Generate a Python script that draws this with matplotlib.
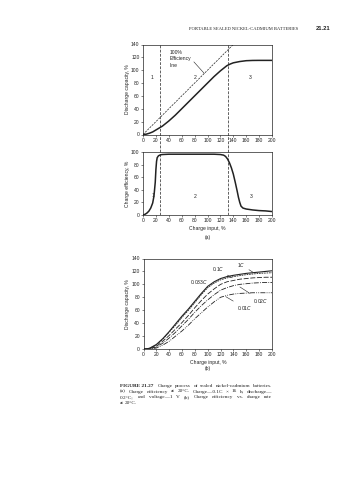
import numpy as np
import matplotlib
matplotlib.use('Agg')
from matplotlib import pyplot as plt

# (a) top: discharge capacity vs charge input
cap_x = [0, 5, 10, 15, 20, 25, 30, 40, 50, 60, 70, 80, 90, 100, 110, 120, 125, 130, 135, 140, 150, 160, 170, 180, 190, 200]
cap_y = [0, 0.5, 2, 4, 7, 10, 13, 21, 30, 40, 50, 60, 70, 80, 90, 99, 103, 107, 109.5, 111.5, 113.5, 114.8, 115.2, 115.3, 115.3, 115.3]
line100_x = [0, 141]
line100_y = [0, 141]
zone_edges = [27, 132]

# (a) bottom: charge efficiency
eff_x = [0, 3, 6, 9, 12, 15, 17, 19, 20, 21, 22, 24, 27, 30, 40, 60, 80, 100, 110, 120, 125, 128, 131, 134, 137, 140, 143, 146, 148, 150, 152, 155, 160, 170, 180, 190, 200]
eff_y = [0, 1, 3, 6, 11, 19, 30, 52, 72, 85, 91, 94, 95.5, 96, 96.5, 96.5, 96.5, 96.5, 96.5, 96, 95, 93, 89, 83, 75, 65, 52, 38, 28, 20, 14, 11, 9.5, 8, 7, 6.5, 5.5]

# (b) discharge capacity for several charge rates
rate_x = [0, 5, 10, 20, 30, 40, 50, 60, 70, 80, 90, 100, 110, 120, 130, 140, 150, 160, 170, 180, 190, 200]
rates = {
    '1C':     [0, 0, 1.5, 7, 16, 27, 39, 51, 62, 74, 86, 97, 104, 109, 112, 114, 115.5, 117, 118, 119, 120, 121],
    '0.1C':   [0, 0, 1.2, 6, 15, 26, 37, 49, 60, 72, 84, 95, 102, 107, 110, 112, 113.5, 115, 116, 117, 117.5, 118],
    '0.033C': [0, 0, 0.8, 4, 12, 21, 31, 41, 52, 64, 75, 85, 93, 100, 104, 106, 108, 109, 110, 110.5, 111, 111],
    '0.02C':  [0, 0, 0.5, 3, 9, 17, 26, 36, 46, 57, 67, 76, 84, 91, 95, 98, 100, 101, 102, 102.5, 103, 103],
    '0.01C':  [0, 0, 0.2, 1.5, 6, 12, 20, 28, 37, 47, 56, 65, 73, 80, 83, 85, 86, 86.5, 87, 87, 87, 87],
}
rate_styles = {
    '1C': '-',
    '0.1C': (0, (2, 1)),
    '0.033C': (0, (6, 2)),
    '0.02C': (0, (6, 1.5, 1, 1.5)),
    '0.01C': (0, (6, 1.5, 1, 1.5, 1, 1.5)),
}

ink = '#222222'
tick_font = 'Liberation Sans'
fs = 3.6

plt.rcParams['font.family'] = tick_font
plt.rcParams['font.size'] = fs
plt.rcParams['axes.linewidth'] = 0.5
plt.rcParams['xtick.major.width'] = 0.4
plt.rcParams['ytick.major.width'] = 0.4
plt.rcParams['xtick.major.size'] = 1.5
plt.rcParams['ytick.major.size'] = 1.5
plt.rcParams['xtick.major.pad'] = 1
plt.rcParams['ytick.major.pad'] = 1
plt.rcParams['text.color'] = ink
plt.rcParams['axes.edgecolor'] = ink
plt.rcParams['xtick.color'] = ink
plt.rcParams['ytick.color'] = ink
plt.rcParams['axes.labelcolor'] = ink

W, H = 357, 480
fig = plt.figure(figsize=(W / 100, H / 100), dpi=100)


def box(l, t, r, b):
    return [l / W, 1 - b / H, (r - l) / W, (b - t) / H]


ax1 = fig.add_axes(box(143, 44.5, 272, 134.5))
ax2 = fig.add_axes(box(143, 152, 272, 215))
ax3 = fig.add_axes(box(143.5, 258.5, 272, 349))

for ax in (ax1, ax2, ax3):
    ax.set_xlim(0, 200)
    ax.set_xticks(np.arange(0, 201, 20))
    ax.tick_params(labelsize=fs)

# top panel
ax1.set_ylim(0, 140)
ax1.set_yticks(np.arange(0, 141, 20))
ax1.plot(cap_x, cap_y, color=ink, lw=1.1)
ax1.plot(line100_x, line100_y, color=ink, lw=0.5, ls=(0, (3, 1.5)), clip_on=True)
ax1.set_ylabel('Discharge capacity, %', labelpad=1)
gap = (152 - 134.5) / (134.5 - 44.5)
for xe in zone_edges:
    ax1.axvline(xe, ymin=-gap, ymax=1, color=ink, lw=0.5, ls=(0, (4, 2)), clip_on=False)
    ax2.axvline(xe, color=ink, lw=0.5, ls=(0, (4, 2)))
ax1.text(14, 89, '1', ha='center', va='center')
ax1.text(80.5, 89, '2', ha='center', va='center')
ax1.text(166, 89, '3', ha='center', va='center')
ax1.annotate('100%\nEfficiency\nline', xy=(95, 95), xytext=(41, 104), ha='left', va='bottom',
             linespacing=1.35, arrowprops=dict(arrowstyle='-', lw=0.4, color=ink, shrinkA=0, shrinkB=0,
                                               relpos=(1, 0.5)))

# middle panel
ax2.set_ylim(0, 100)
ax2.set_yticks(np.arange(0, 101, 20))
ax2.plot(eff_x, eff_y, color=ink, lw=1.1)
ax2.set_ylabel('Charge efficiency, %', labelpad=1)
ax2.set_xlabel('Charge input, %', labelpad=2)
ax2.text(15, 31, '1', ha='center', va='center')
ax2.text(80, 30, '2', ha='center', va='center')
ax2.text(167, 30, '3', ha='center', va='center')
fig.text(208 / W, 1 - 237.5 / H, '(a)', ha='center', va='center', fontsize=fs)

# bottom panel
ax3.set_ylim(0, 140)
ax3.set_yticks(np.arange(0, 141, 20))
for name, vals in rates.items():
    ax3.plot(rate_x, vals, color=ink, lw=0.8 if name == '1C' else 0.6, ls=rate_styles[name])
ax3.set_ylabel('Discharge capacity, %', labelpad=1)
ax3.set_xlabel('Charge input, %', labelpad=2)
lead = dict(arrowstyle='-', lw=0.4, color=ink, shrinkA=0.5, shrinkB=0)
ax3.annotate('1$C$', xy=(170, 119), xytext=(146, 130), ha='left', va='center', arrowprops=lead)
ax3.annotate('0.1$C$', xy=(138, 110), xytext=(106, 123), ha='left', va='center', arrowprops=lead)
ax3.text(72, 104, '0.033$C$', ha='left', va='center')
ax3.annotate('0.02$C$', xy=(150, 96), xytext=(171, 75), ha='left', va='center', arrowprops=lead)
ax3.annotate('0.01$C$', xy=(128, 81), xytext=(145, 64), ha='left', va='center', arrowprops=lead)
fig.text(208 / W, 1 - 368.5 / H, '(b)', ha='center', va='center', fontsize=fs)

# page header
fig.text(298 / W, 1 - 29 / H, 'PORTABLE SEALED NICKEL-CADMIUM BATTERIES', ha='right', va='center',
         family='Liberation Serif', fontsize=3.35)
fig.text(330 / W, 1 - 29 / H, '21.21', ha='right', va='center', fontsize=4.2, fontweight='bold')

# caption, justified between x0 and x1 (last line ragged)
cap_lines = [
    'FIGURE 21.27  Charge process of sealed nickel-cadmium batteries.',
    '(a) Charge efficiency at 20°C. Charge—0.1C × 16 h; discharge—',
    '0.2°C; end voltage—1 V. (b) Charge efficiency vs. charge rate',
    'at 20°C.',
]
cap_x0, cap_x1 = 120, 272
cap_y0, cap_dy = 386, 5.5
cap_fs = 3.8
renderer = fig.canvas.get_renderer()
for i, line in enumerate(cap_lines):
    y = 1 - (cap_y0 + i * cap_dy) / H
    words = line.split()
    if i == 0:
        words = ['FIGURE 21.27'] + line[len('FIGURE 21.27'):].split()
    arts = []
    for j, w in enumerate(words):
        bold = (i == 0 and j == 0)
        t = fig.text(0, y, w, ha='left', va='center', family='Liberation Serif', fontsize=cap_fs,
                     fontweight='bold' if bold else 'normal')
        arts.append(t)
    widths = [t.get_window_extent(renderer).width for t in arts]
    if i < len(cap_lines) - 1:
        space = (cap_x1 - cap_x0 - sum(widths) - (2 if i == 0 else 0)) / (len(arts) - 1)
        space = max(space, 1.0)
    else:
        space = 1.2
    x = cap_x0
    for j, (t, wd) in enumerate(zip(arts, widths)):
        t.set_x(x / W)
        x += wd + space
        if i == 0 and j == 0:
            x += 2

fig.savefig('out.png', dpi=100)
